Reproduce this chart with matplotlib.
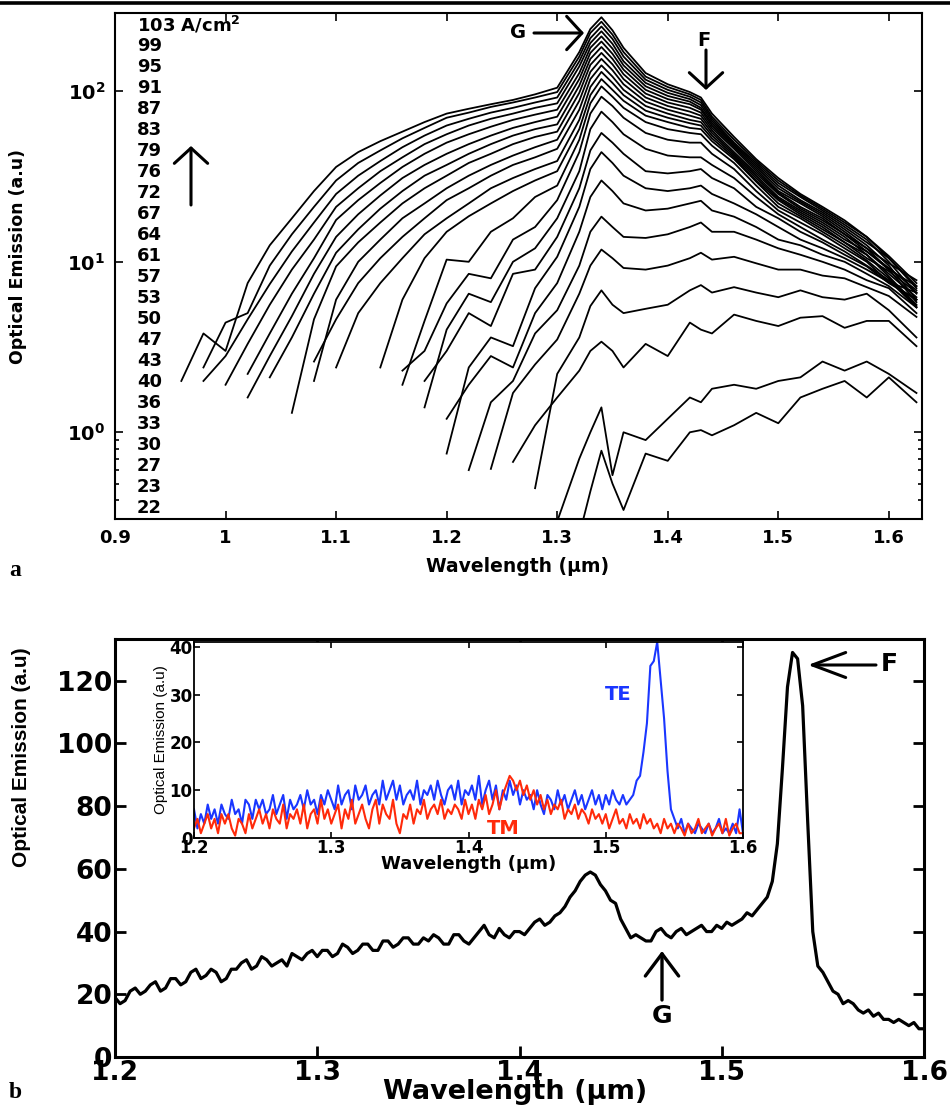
import numpy as np
import matplotlib
matplotlib.use('Agg')
import matplotlib.pyplot as plt
from matplotlib.lines import Line2D
from matplotlib.ticker import FixedLocator, NullFormatter
from matplotlib import font_manager

plt.rcParams['font.family'] = ['DejaVu Sans']
plt.rcParams['mathtext.fontset'] = 'dejavusans'

installed = {f.name for f in font_manager.fontManager.ttflist}
narrow = 'Liberation Sans Narrow' if 'Liberation Sans Narrow' in installed else 'Liberation Sans'

# ---- panel a: spectra for each current density (A/cm2) ----
currents = [103, 99, 95, 91, 87, 83, 79, 76, 72, 67, 64, 61, 57, 53, 50, 47, 43, 40, 36, 33, 30, 27, 23, 22]

wl_a = [0.96, 0.98, 1.00, 1.02, 1.04, 1.06, 1.08, 1.10, 1.12, 1.14, 1.16, 1.18, 1.20, 1.22, 1.24, 1.26, 1.28, 1.30,
        1.32, 1.33, 1.34, 1.35, 1.36, 1.38, 1.40, 1.42, 1.43, 1.44, 1.46, 1.48, 1.50, 1.52, 1.54, 1.56, 1.58, 1.60, 1.625]

# each list runs from where the curve starts up to 1.625 um
c103 = [2.0, 3.8, 3.0, 7.5, 12.5, 18, 26, 36, 44, 51, 58, 66, 74, 79, 84, 89, 96, 105,
        170, 232, 272, 228, 180, 128, 110, 99, 92, 74, 54, 40, 31, 25, 21, 17.5, 14, 10.5, 7.0]
c99 = [2.4, 4.4, 5.0, 9.5, 14.5, 21, 30, 38, 45, 53, 61, 70, 75, 81, 86, 92, 99,
       160, 220, 256, 215, 170, 122, 106, 96, 89, 71, 52, 39, 30, 24.5, 20.5, 17, 14, 10.8, 7.5]
c95 = [2.0, 2.8, 4.6, 7.4, 11.5, 17, 25, 32, 39, 47, 55, 63, 69, 75, 80, 86, 92,
       150, 205, 240, 203, 160, 117, 102, 93, 86, 69, 50, 38, 29, 24, 20, 16.5, 13.5, 10, 6.5]
c91 = [1.9, 3.3, 5.6, 9.0, 13.5, 21, 27, 34, 41, 49, 56, 63, 69, 74, 80, 85,
       140, 192, 225, 190, 150, 112, 98, 90, 83, 67, 49, 37, 28, 23, 19.5, 16, 13, 10.5, 7.2]
c87 = [2.2, 3.8, 6.5, 10.5, 17.6, 23, 29, 36, 43, 50, 56, 62, 68, 73, 78,
       128, 180, 210, 178, 142, 107, 94, 87, 80, 65, 48, 36, 27, 22.5, 19, 15.5, 12.5, 9.5, 6.0]
c83 = [1.6, 2.8, 4.8, 8.5, 14, 19, 24.5, 31, 37, 43, 49, 55, 61, 66, 71,
       118, 168, 196, 166, 134, 102, 90, 84, 78, 63, 47, 35, 26, 22, 18.5, 15, 12, 9.8, 7.8]
c79 = [2.1, 3.6, 6.5, 11.3, 15.5, 20.5, 26, 32, 37, 43, 49, 55, 60, 64,
       108, 155, 182, 155, 126, 97, 86, 80, 75, 61, 46, 34, 25.5, 21, 18, 14.5, 12, 9, 5.8]
c76 = [1.3, 4.6, 9.4, 13, 17, 22, 27, 32, 38, 43, 49, 54, 58,
       98, 143, 168, 144, 118, 92, 82, 76, 72, 59, 44, 33, 25, 20.5, 17.5, 14.5, 11.5, 9.2, 6.8]
c72 = [2.0, 6.0, 10, 13.5, 18, 22, 27, 32, 37, 42, 47, 52,
       88, 130, 155, 133, 110, 87, 78, 72, 69, 57, 43, 32, 24, 20, 17, 14, 11, 8.5, 6.2]
c67 = [2.6, 4.6, 7.5, 10.5, 14, 18, 23, 27, 32, 37, 41, 46,
       78, 118, 142, 122, 102, 82, 74, 68, 66, 55, 42, 31, 23.5, 19.5, 16.5, 13.5, 11.5, 9.0, 7.2]
c64 = [2.4, 5.0, 7.5, 10.5, 14.5, 18, 22, 27, 31, 35, 39,
       68, 106, 130, 112, 95, 77, 70, 65, 63, 53, 41, 30, 23, 19, 16, 13, 11, 8.2, 5.6]
c61 = [2.4, 6.0, 10.5, 15, 18.5, 22, 26, 30, 34,
       60, 95, 118, 102, 88, 72, 66, 61, 60, 51, 40, 29.5, 22, 18.5, 15.5, 13, 10.5, 8.8, 6.6]
c57 = [1.9, 4.5, 10.3, 10, 15, 18, 24, 28,
       52, 85, 107, 93, 80, 66, 60, 57, 56, 48, 38, 28, 21, 18, 15, 12.5, 10.2, 8.0, 5.5]
c53 = [2.3, 3.0, 5.7, 8.5, 8.0, 13.5, 16, 23,
       44, 74, 93, 82, 70, 57, 52, 50, 50, 43, 35, 26, 20, 17, 14.5, 12, 10, 7.6, 6.0]
c50 = [1.4, 4.0, 6.5, 5.8, 10, 12, 18,
       34, 60, 76, 66, 56, 46, 42, 41, 41, 37, 31, 24, 19, 16, 13.5, 11.5, 9.5, 7.8, 5.4]
c47 = [2.0, 3.0, 5.0, 4.2, 8.5, 9, 14,
       27, 45, 57, 50, 43, 34, 33, 34, 35, 31, 27, 21, 18, 15, 13, 11, 9.4, 7.5, 6.0]
c43 = [0.75, 2.4, 3.6, 3.2, 7, 10.7,
       21, 35, 44, 38, 32, 27, 26, 27, 28, 25, 22, 19, 16, 13.5, 12, 10.5, 9, 7.6, 6.6]
c40 = [1.2, 1.9, 2.8, 2.4, 5.0, 7.5,
       15, 24, 30, 26, 22, 20, 20.5, 22, 22.8, 20, 18.4, 16, 13.5, 12.5, 11, 10, 8.5, 7.2, 5.4]
c36 = [0.6, 1.5, 2.0, 3.8, 5.2,
       9.5, 15, 18.4, 16, 14, 13.8, 14.5, 16, 17, 15, 15, 13.5, 12, 11, 10, 9, 7.8, 7, 5.0]
c33 = [0.61, 1.7, 2.5, 3.5,
       6.5, 9.5, 11.8, 10.5, 9.2, 9.0, 9.5, 10.5, 11.3, 10.3, 10.7, 9.8, 9.0, 9.0, 8.3, 8.0, 7.1, 6.3, 4.75]
c30 = [0.47, 2.2,
       3.6, 5.5, 6.8, 5.6, 5.0, 5.3, 5.6, 6.8, 7.3, 6.6, 7.1, 6.6, 6.2, 6.8, 6.2, 6.0, 6.5, 5.2, 3.6]
c27 = [0.67, 1.1, 1.6,
       2.3, 3.0, 3.4, 3.0, 2.4, 3.3, 2.8, 4.4, 4.0, 3.8, 4.9, 4.5, 4.2, 4.7, 4.8, 4.1, 4.5, 4.5, 3.2]
c23 = [0.3,
       0.7, 1.0, 1.4, 0.56, 1.0, 0.9, 1.2, 1.6, 1.5, 1.8, 1.9, 1.8, 2.0, 2.1, 2.6, 2.3, 2.6, 2.2, 1.7]
c22 = [0.25, 0.45, 0.78, 0.5, 0.35, 0.75, 0.68, 1.0, 1.03, 0.96, 1.1, 1.3, 1.13, 1.6, 1.8, 2.0, 1.6, 2.1, 1.5]

spectra = [c103, c99, c95, c91, c87, c83, c79, c76, c72, c67, c64, c61,
           c57, c53, c50, c47, c43, c40, c36, c33, c30, c27, c23, c22]

# ---- panel b: main spectrum and inset TE / TM (sampled every 2.5 nm) ----
wl_b = np.round(np.arange(1.2, 1.60001, 0.0025), 4)

emission_b = [19, 17, 18, 21, 22, 20, 21, 23, 24, 21,
              22, 25, 25, 23, 24, 27, 28, 25, 26, 28,
              27, 24, 25, 28, 28, 30, 31, 28, 29, 32,
              31, 29, 30, 31, 29, 33, 32, 31, 33, 34,
              32, 34, 34, 32, 33, 36, 35, 33, 34, 36,
              36, 34, 34, 37, 37, 35, 36, 38, 38, 36,
              36, 38, 37, 39, 38, 36, 36, 39, 39, 37,
              36, 38, 40, 42, 39, 38, 41, 39, 38, 40,
              40, 39, 41, 43, 44, 42, 43, 45, 46, 48,
              51, 53, 56, 58, 59, 58, 55, 53, 50, 49,
              44, 41, 38, 39, 38, 37, 37, 40, 41, 39,
              38, 40, 41, 39, 40, 41, 42, 40, 40, 42,
              41, 43, 42, 43, 44, 46, 45, 47, 49, 51,
              56, 68, 92, 118, 129, 127, 112, 75, 40, 29,
              27, 24, 21, 20, 17, 18, 17, 15, 14, 15,
              13, 14, 12, 12, 11, 12, 11, 10, 11, 9,
              9]

te = [6, 2, 5, 3, 7, 4, 6, 3, 7, 5,
      4, 8, 5, 6, 3, 8, 7, 4, 8, 6,
      8, 5, 6, 9, 5, 7, 9, 4, 8, 6,
      7, 9, 6, 10, 7, 8, 5, 9, 7, 10,
      8, 6, 11, 7, 9, 10, 6, 11, 8, 9,
      11, 7, 9, 10, 7, 12, 8, 10, 12, 8,
      11, 7, 9, 10, 8, 12, 7, 10, 9, 11,
      8, 12, 9, 7, 10, 11, 8, 12, 7, 10,
      9, 11, 8, 13, 7, 10, 12, 8, 11, 6,
      10, 8, 12, 9, 11, 7, 10, 8, 9, 6,
      10, 7, 5, 9, 8, 6, 10, 7, 9, 6,
      8, 10, 7, 9, 6, 8, 10, 7, 9, 6,
      9, 7, 10, 8, 7, 9, 7, 8, 9, 12,
      13, 18, 24, 36, 37, 41, 33, 25, 14, 6,
      4, 2, 4, 1, 3, 2, 1, 3, 2, 1,
      3, 1, 2, 4, 1, 2, 1, 3, 1, 6,
      1]

tm = [2, 4, 1, 3, 5, 2, 4, 1, 5, 3,
      5, 2, 0.5, 4, 3, 1, 5, 2, 4, 6,
      3, 5, 2, 6, 4, 3, 7, 2, 5, 4,
      6, 3, 7, 2, 5, 6, 3, 8, 4, 6,
      3, 5, 7, 2, 6, 4, 8, 3, 5, 7,
      4, 2, 6, 8, 3, 7, 5, 4, 8, 3,
      1, 5, 4, 7, 3, 6, 5, 8, 4, 6,
      7, 5, 8, 4, 6, 5, 7, 6, 4, 8,
      5, 7, 4, 8, 6, 9, 5, 7, 10, 6,
      9, 11, 13, 12, 10, 12, 9, 11, 8, 10,
      7, 9, 6, 8, 5, 7, 6, 8, 4, 6,
      5, 7, 4, 6, 5, 3, 6, 4, 5, 3,
      5, 2, 4, 6, 3, 4, 2, 5, 3, 4,
      2, 5, 3, 4, 2, 3, 1, 4, 2, 3,
      1, 3, 2, 0.5, 3, 1, 2, 4, 1, 2,
      3, 0.5, 2, 3, 1, 4, 0.5, 2, 3, 1,
      1]

W, H = 950, 1106


def fx(x):
    return x / W


def fy(y):
    return 1 - y / H


fig = plt.figure(figsize=(9.5, 11.06), dpi=100)

# thick rule at the top of the page
fig.add_artist(Line2D([0, 1], [fy(3), fy(3)], color='black', lw=2.6, transform=fig.transFigure))

# ===== panel a =====
ax1 = fig.add_axes([fx(115), fy(519), fx(922) - fx(115), fy(13) - fy(519)])
for vals in spectra:
    ax1.plot(wl_a[-len(vals):], vals, color='black', lw=1.3)
ax1.set_yscale('log')
ax1.set_xlim(0.9, 1.63)
ax1.set_ylim(0.31, 288)
ax1.set_xticks([0.9, 1.0, 1.1, 1.2, 1.3, 1.4, 1.5, 1.6])
ax1.set_xticklabels(['0.9', '1', '1.1', '1.2', '1.3', '1.4', '1.5', '1.6'], fontsize=13, fontweight='bold')
ax1.set_yticks([1, 10, 100])
ax1.set_yticklabels([r'$\mathbf{10^{0}}$', r'$\mathbf{10^{1}}$', r'$\mathbf{10^{2}}$'], fontsize=14)
ax1.yaxis.set_minor_locator(FixedLocator([0.4, 0.5, 0.6, 0.7, 0.8, 0.9]))
ax1.yaxis.set_minor_formatter(NullFormatter())
ax1.tick_params(which='both', direction='in', top=True, right=True, width=1.2)
ax1.tick_params(which='major', length=6, pad=7)
ax1.tick_params(which='minor', length=3)
for s in ax1.spines.values():
    s.set_linewidth(1.5)

fig.text(fx(518), fy(567), 'Wavelength (\u03bcm)', ha='center', va='center', fontsize=13.5, fontweight='bold')
fig.text(fx(18), fy(257), 'Optical Emission (a.u)', ha='center', va='center', rotation=90,
         fontsize=12.5, fontweight='bold')

for i, c in enumerate(currents):
    lbl = str(c)
    if i == 0:
        lbl = r'103 A/cm$^{\mathbf{2}}$'
    fig.text(fx(137), fy(25 + 21 * i), lbl, ha='left', va='center', fontsize=13, fontweight='bold')

arrow_big = dict(arrowstyle='->,head_length=0.55,head_width=0.6', lw=2.2, color='black',
                 mutation_scale=20, shrinkA=0, shrinkB=0)
ax1.annotate('', xy=(fx(191), fy(146)), xycoords='figure fraction',
             xytext=(fx(191), fy(205)), textcoords='figure fraction', arrowprops=arrow_big)
ax1.annotate('', xy=(fx(584), fy(33)), xycoords='figure fraction',
             xytext=(fx(534), fy(33)), textcoords='figure fraction', arrowprops=arrow_big)
ax1.annotate('', xy=(fx(706), fy(90)), xycoords='figure fraction',
             xytext=(fx(706), fy(50)), textcoords='figure fraction', arrowprops=arrow_big)
fig.text(fx(518), fy(33), 'G', ha='center', va='center', fontsize=14, fontweight='bold')
fig.text(fx(704), fy(40), 'F', ha='center', va='center', fontsize=14, fontweight='bold')

fig.text(fx(15), fy(571), 'a', ha='center', va='center', fontsize=17, fontweight='bold',
         family='Liberation Serif')

# ===== panel b =====
ax2 = fig.add_axes([fx(115), fy(1057), fx(924) - fx(115), fy(639) - fy(1057)])
ax2.plot(wl_b, emission_b, color='black', lw=2.3)
ax2.set_xlim(1.2, 1.6)
ax2.set_ylim(0, 133.3)
ax2.set_xticks([1.2, 1.3, 1.4, 1.5, 1.6])
ax2.set_xticklabels(['1.2', '1.3', '1.4', '1.5', '1.6'], fontsize=19, fontweight='bold')
ax2.set_yticks([0, 20, 40, 60, 80, 100, 120])
ax2.set_yticklabels(['0', '20', '40', '60', '80', '100', '120'], fontsize=19, fontweight='bold')
ax2.tick_params(direction='in', top=True, right=True, length=8, width=2, pad=2)
for s in ax2.spines.values():
    s.set_linewidth(2.2)

fig.text(fx(515), fy(1092), 'Wavelength (\u03bcm)', ha='center', va='center', fontsize=19.5, fontweight='bold')
fig.text(fx(22), fy(757), 'Optical Emission (a.u)', ha='center', va='center', rotation=90,
         fontsize=17 if narrow != 'Liberation Sans' else 15, fontweight='bold', family=narrow)
fig.text(fx(15), fy(1093), 'b', ha='center', va='center', fontsize=17, fontweight='bold',
         family='Liberation Serif')

arrow_f = dict(arrowstyle='->,head_length=1.2,head_width=0.45', lw=2.2, color='black',
               mutation_scale=20, shrinkA=0, shrinkB=0)
ax2.annotate('', xy=(fx(808), fy(665)), xycoords='figure fraction',
             xytext=(fx(876), fy(665)), textcoords='figure fraction', arrowprops=arrow_f)
fig.text(fx(889), fy(664), 'F', ha='center', va='center', fontsize=18, fontweight='bold')
arrow_g = dict(arrowstyle='->,head_length=0.8,head_width=0.6', lw=2.4, color='black',
               mutation_scale=20, shrinkA=0, shrinkB=0)
ax2.annotate('', xy=(fx(662), fy(951)), xycoords='figure fraction',
             xytext=(fx(662), fy(1000)), textcoords='figure fraction', arrowprops=arrow_g)
fig.text(fx(662), fy(1016), 'G', ha='center', va='center', fontsize=18, fontweight='bold')

# ===== inset =====
ax3 = fig.add_axes([fx(194), fy(838), fx(743) - fx(194), fy(642) - fy(838)])
ax3.plot(wl_b, te, color='#1a36ff', lw=1.5)
ax3.plot(wl_b, tm, color='#ff2a0a', lw=1.5)
ax3.set_xlim(1.2, 1.6)
ax3.set_ylim(0, 41)
ax3.set_xticks([1.2, 1.3, 1.4, 1.5, 1.6])
ax3.set_xticklabels(['1.2', '1.3', '1.4', '1.5', '1.6'], fontsize=12, fontweight='bold')
ax3.set_yticks([0, 10, 20, 30, 40])
ax3.set_yticklabels(['0', '10', '20', '30', '40'], fontsize=12, fontweight='bold')
ax3.tick_params(direction='in', top=True, right=True, length=4, width=1.2, pad=1)
for s in ax3.spines.values():
    s.set_linewidth(1.3)
ax3.set_xlabel('Wavelength (\u03bcm)', fontsize=13, fontweight='bold', labelpad=-2)
ax3.set_ylabel('Optical Emission (a.u)', fontsize=12.5 if narrow != 'Liberation Sans' else 11,
               family=narrow, labelpad=1)
fig.text(fx(618), fy(695), 'TE', ha='center', va='center', fontsize=14, fontweight='bold',
         color='#1a36ff')
fig.text(fx(503), fy(828), 'TM', ha='center', va='center', fontsize=14, fontweight='bold',
         color='#ff2a0a')

fig.savefig('out.png', dpi=100)
